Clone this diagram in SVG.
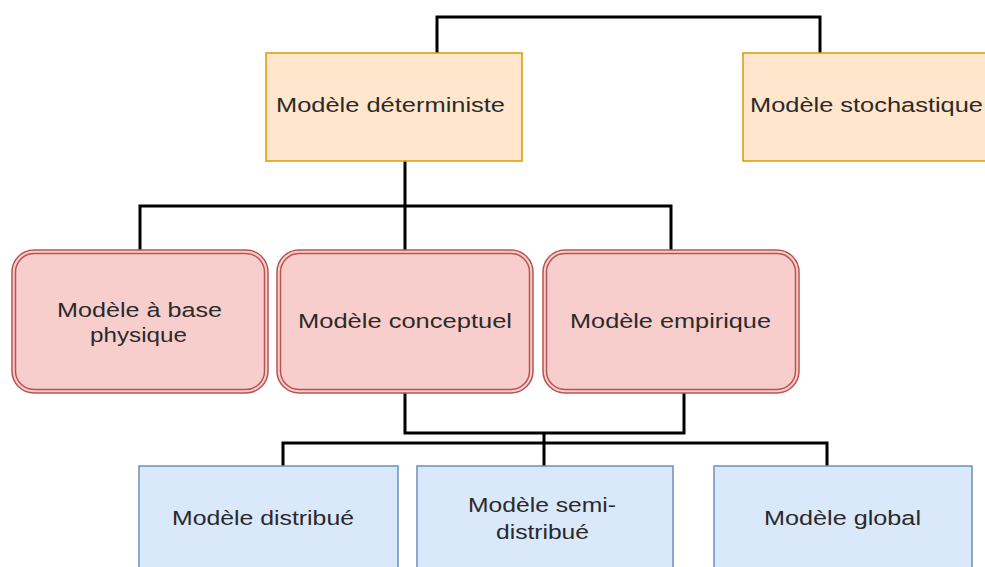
<svg xmlns="http://www.w3.org/2000/svg" width="985" height="567" viewBox="0 0 985 567">
<style>
.orange{fill:#ffe6cc;stroke:#d79b00;stroke-width:1.5}
.red{fill:#f8cecc;stroke:#b85450;stroke-width:1.5}
.redin{fill:none;stroke:#b85450;stroke-width:1.5}
.blue{fill:#dae8fc;stroke:#6c8ebf;stroke-width:1.5}
.lbl{font-family:"Liberation Sans",Arial,sans-serif;font-size:20.5px;fill:#2a2a2a}
.conn{fill:none;stroke:#000;stroke-width:3;stroke-linejoin:miter}
</style>
<rect width="985" height="567" fill="#fff"/>
<g id="connectors">
<path class="conn" d="M437 53 V17 H820 V53"/>
<path class="conn" d="M405 161 V206 M140 250 V206 H671 V250 M405 206 V250"/>
<path class="conn" d="M405 393 V433 H684 V393"/>
<path class="conn" d="M544 433 V466 M283 466 V443 H827 V466"/>
</g>
<g id="deterministe">
<rect class="orange" x="266" y="53" width="256" height="108"/>
<text class="lbl" x="276" y="112" textLength="229" lengthAdjust="spacingAndGlyphs">Modèle déterministe</text>
</g>
<g id="stochastique">
<rect class="orange" x="743" y="53" width="256" height="108"/>
<text class="lbl" x="750" y="112" textLength="233" lengthAdjust="spacingAndGlyphs">Modèle stochastique</text>
</g>
<g id="base-physique">
<rect class="red" x="12" y="250" width="256" height="143" rx="22"/>
<rect class="redin" x="15.5" y="253.5" width="249" height="136" rx="18.5"/>
<text class="lbl" x="57" y="317" textLength="165" lengthAdjust="spacingAndGlyphs">Modèle à base</text>
<text class="lbl" x="90" y="342" textLength="97" lengthAdjust="spacingAndGlyphs">physique</text>
</g>
<g id="conceptuel">
<rect class="red" x="277" y="250" width="256" height="143" rx="22"/>
<rect class="redin" x="280.5" y="253.5" width="249" height="136" rx="18.5"/>
<text class="lbl" x="298" y="328" textLength="214" lengthAdjust="spacingAndGlyphs">Modèle conceptuel</text>
</g>
<g id="empirique">
<rect class="red" x="543" y="250" width="256" height="143" rx="22"/>
<rect class="redin" x="546.5" y="253.5" width="249" height="136" rx="18.5"/>
<text class="lbl" x="570" y="328" textLength="201" lengthAdjust="spacingAndGlyphs">Modèle empirique</text>
</g>
<g id="distribue">
<rect class="blue" x="139" y="466" width="259" height="140"/>
<text class="lbl" x="172" y="525" textLength="182" lengthAdjust="spacingAndGlyphs">Modèle distribué</text>
</g>
<g id="semi-distribue">
<rect class="blue" x="417" y="466" width="256" height="140"/>
<text class="lbl" x="468" y="512" textLength="148" lengthAdjust="spacingAndGlyphs">Modèle semi-</text>
<text class="lbl" x="496" y="539" textLength="93" lengthAdjust="spacingAndGlyphs">distribué</text>
</g>
<g id="global">
<rect class="blue" x="714" y="466" width="258" height="140"/>
<text class="lbl" x="764" y="525" textLength="157" lengthAdjust="spacingAndGlyphs">Modèle global</text>
</g>
</svg>
